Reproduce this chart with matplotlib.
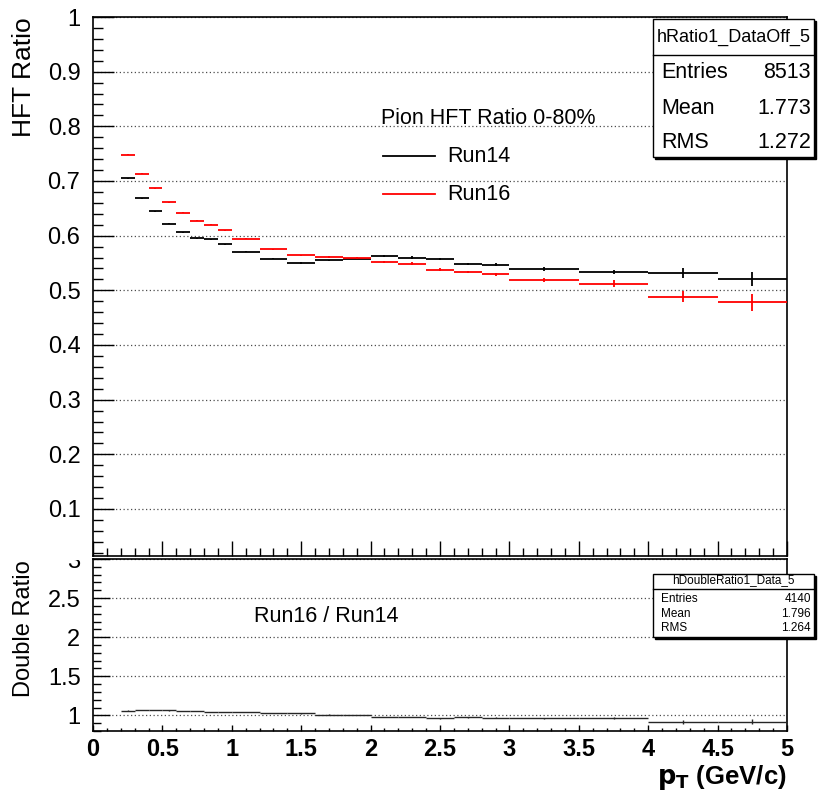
#! /usr/bin/env python
import numpy as np
import matplotlib
matplotlib.use('Agg')
from matplotlib import pyplot as plt
from matplotlib.ticker import MultipleLocator, FixedLocator
from matplotlib.patches import Rectangle
from matplotlib.lines import Line2D

plt.rcParams['font.family'] = ['Liberation Sans', 'DejaVu Sans']

# pT bin edges (GeV/c)
bin_edges = [0.2, 0.3, 0.4, 0.5, 0.6, 0.7, 0.8, 0.9, 1.0, 1.2, 1.4, 1.6,
             1.8, 2.0, 2.2, 2.4, 2.6, 2.8, 3.0, 3.5, 4.0, 4.5, 5.0]

# HFT ratio, Run14 (black)
run14 = [0.705, 0.668, 0.645, 0.622, 0.606, 0.595, 0.593, 0.584, 0.571,
         0.558, 0.550, 0.555, 0.558, 0.563, 0.560, 0.558, 0.548, 0.547,
         0.539, 0.533, 0.532, 0.520]
run14_err = [0.001, 0.001, 0.001, 0.001, 0.001, 0.001, 0.001, 0.001, 0.001,
             0.001, 0.001, 0.001, 0.001, 0.002, 0.002, 0.002, 0.002, 0.003,
             0.003, 0.004, 0.009, 0.013]

# HFT ratio, Run16 (red)
run16 = [0.748, 0.713, 0.687, 0.661, 0.642, 0.627, 0.620, 0.610, 0.594,
         0.575, 0.564, 0.561, 0.559, 0.552, 0.549, 0.538, 0.533, 0.529,
         0.519, 0.512, 0.488, 0.478]
run16_err = [0.001, 0.001, 0.001, 0.001, 0.001, 0.001, 0.001, 0.001, 0.001,
             0.001, 0.001, 0.001, 0.002, 0.002, 0.002, 0.002, 0.002, 0.003,
             0.004, 0.006, 0.010, 0.015]

# Double ratio Run16 / Run14
double_ratio = [1.061, 1.067, 1.065, 1.063, 1.059, 1.054, 1.046, 1.045,
                1.040, 1.030, 1.025, 1.011, 1.002, 0.980, 0.980, 0.964,
                0.973, 0.967, 0.963, 0.961, 0.917, 0.919]
double_ratio_err = [0.002, 0.002, 0.002, 0.002, 0.002, 0.002, 0.002, 0.002,
                    0.002, 0.002, 0.003, 0.003, 0.003, 0.004, 0.004, 0.005,
                    0.005, 0.006, 0.007, 0.012, 0.025, 0.035]

W, H = 819, 800


def fx(px):
    return px / W


def fy(py):
    return 1 - py / H


def draw_hist(ax, vals, errs, color, lw):
    edges = np.array(bin_edges)
    lo, hi = edges[:-1], edges[1:]
    centers = 0.5 * (lo + hi)
    vals = np.array(vals)
    errs = np.array(errs)
    ax.hlines(vals, lo, hi, colors=color, lw=lw, zorder=3)
    ax.vlines(centers, vals - errs, vals + errs, colors=color, lw=lw, zorder=3)


def style_axis(ax, ymajor, yminor, ylen, xlen):
    ax.xaxis.set_major_locator(MultipleLocator(0.5))
    ax.xaxis.set_minor_locator(MultipleLocator(0.1))
    ax.yaxis.set_major_locator(ymajor)
    ax.yaxis.set_minor_locator(MultipleLocator(yminor))
    ax.tick_params(axis='both', which='both', direction='in',
                   top=False, right=False, width=1.0, color='black')
    ax.tick_params(axis='y', which='major', length=ylen, pad=9, labelsize=17)
    ax.tick_params(axis='y', which='minor', length=ylen / 2)
    ax.tick_params(axis='x', which='major', length=xlen, pad=5)
    ax.tick_params(axis='x', which='minor', length=xlen / 2)
    for s in ax.spines.values():
        s.set_linewidth(1.2)
    ax.grid(axis='y', which='major', color='0.3', linestyle=(0, (1, 2)), lw=0.9)
    ax.set_axisbelow(True)


fig = plt.figure(figsize=(8.19, 8.0), dpi=100)

# bottom panel (double ratio)
ax2 = fig.add_axes([fx(93), fy(731), fx(787) - fx(93), fy(559) - fy(731)])
ax2.set_zorder(0)
# top panel (HFT ratio)
ax1 = fig.add_axes([fx(93), fy(556), fx(787) - fx(93), fy(17) - fy(556)])
ax1.set_zorder(2)

# --- top panel
draw_hist(ax1, run14, run14_err, 'black', 1.3)
draw_hist(ax1, run16, run16_err, 'red', 1.3)
ax1.set_xlim(0, 5)
ax1.set_ylim(0.014, 1.0)
style_axis(ax1, FixedLocator([0.1, 0.2, 0.3, 0.4, 0.5, 0.6, 0.7, 0.8, 0.9, 1.0]),
           0.02, 15, 11)
ax1.set_yticklabels(['0.1', '0.2', '0.3', '0.4', '0.5', '0.6', '0.7', '0.8',
                     '0.9', '1'])
ax1.tick_params(axis='x', labelbottom=False)

# --- bottom panel
edges = np.array(bin_edges)
c2 = 0.5 * (edges[:-1] + edges[1:])
dr = np.array(double_ratio)
dre = np.array(double_ratio_err)
ax2.hlines(dr, edges[:-1], edges[1:], colors='0.15', lw=1.0, zorder=3)
ax2.vlines(c2, dr - dre, dr + dre, colors='0.15', lw=1.0, zorder=3)
ax2.set_xlim(0, 5)
ax2.set_ylim(0.8, 3.0)
style_axis(ax2, FixedLocator([1.0, 1.5, 2.0, 2.5, 3.0]), 0.1, 12, 4.5)
ax2.set_yticklabels(['1', '1.5', '2', '2.5', '3'])
ax2.set_xticks([0, 0.5, 1, 1.5, 2, 2.5, 3, 3.5, 4, 4.5, 5])
ax2.set_xticklabels(['0', '0.5', '1', '1.5', '2', '2.5', '3', '3.5', '4',
                     '4.5', '5'], fontsize=17, fontweight='bold')

# hide upper half of the "3" label like the pad boundary does
fig.add_artist(Rectangle((0, fy(560)), fx(90), fy(530) - fy(560),
                         transform=fig.transFigure, facecolor='white',
                         edgecolor='none', zorder=1))

# axis titles
fig.text(fx(24), fy(17), 'HFT Ratio', rotation=90, ha='center', va='top',
         fontsize=19)
fig.text(fx(24), fy(560), 'Double Ratio', rotation=90, ha='center', va='top',
         fontsize=17)
fig.text(fx(787), fy(778), r'$\mathbf{p_{T}}$ (GeV/c)', ha='right',
         va='center', fontsize=18.5, fontweight='bold')

# legend in top panel
fig.text(fx(381), fy(118), 'Pion HFT Ratio 0-80%', ha='left', va='center',
         fontsize=15.5, zorder=5)
fig.add_artist(Line2D([fx(383), fx(435)], [fy(156), fy(156)], color='black',
                      lw=1.3, transform=fig.transFigure, zorder=5))
fig.text(fx(447), fy(156), 'Run14', ha='left', va='center', fontsize=15.5,
         zorder=5)
fig.add_artist(Line2D([fx(383), fx(435)], [fy(194), fy(194)], color='red',
                      lw=1.3, transform=fig.transFigure, zorder=5))
fig.text(fx(447), fy(194), 'Run16', ha='left', va='center', fontsize=15.5,
         zorder=5)

fig.text(fx(254), fy(617), 'Run16 / Run14', ha='left', va='center',
         fontsize=15.5, zorder=5)


def stats_box(x0, x1, y0, y1, yhead, ytitle, title, rows, tsize, fsize):
    # shadow
    fig.add_artist(Rectangle((fx(x0 + 2), fy(y1 + 2)), fx(x1) - fx(x0),
                             fy(y0) - fy(y1), transform=fig.transFigure,
                             facecolor='black', edgecolor='black', lw=1.0,
                             zorder=6))
    fig.add_artist(Rectangle((fx(x0), fy(y1)), fx(x1) - fx(x0),
                             fy(y0) - fy(y1), transform=fig.transFigure,
                             facecolor='white', edgecolor='black', lw=1.0,
                             zorder=7))
    fig.add_artist(Line2D([fx(x0), fx(x1)], [fy(yhead), fy(yhead)],
                          color='black', lw=1.0, transform=fig.transFigure,
                          zorder=8))
    fig.text(fx(0.5 * (x0 + x1)), fy(ytitle), title, ha='center',
             va='center', fontsize=tsize, zorder=9)
    for label, value, yr in rows:
        fig.text(fx(x0 + 8), fy(yr), label, ha='left', va='center',
                 fontsize=fsize, zorder=9)
        fig.text(fx(x1 - 3), fy(yr), value, ha='right', va='center',
                 fontsize=fsize, zorder=9)


stats_box(653, 814, 19, 157, 55, 37, 'hRatio1_DataOff_5',
          [('Entries', '8513', 73), ('Mean', '1.773', 109),
           ('RMS', '1.272', 142)], 13, 15.5)
stats_box(653, 814, 574, 637, 589, 580.5, 'hDoubleRatio1_Data_5',
          [('Entries', '4140', 599), ('Mean', '1.796', 614),
           ('RMS', '1.264', 628)], 8.5, 8.5)

fig.savefig('out.png', dpi=100)
